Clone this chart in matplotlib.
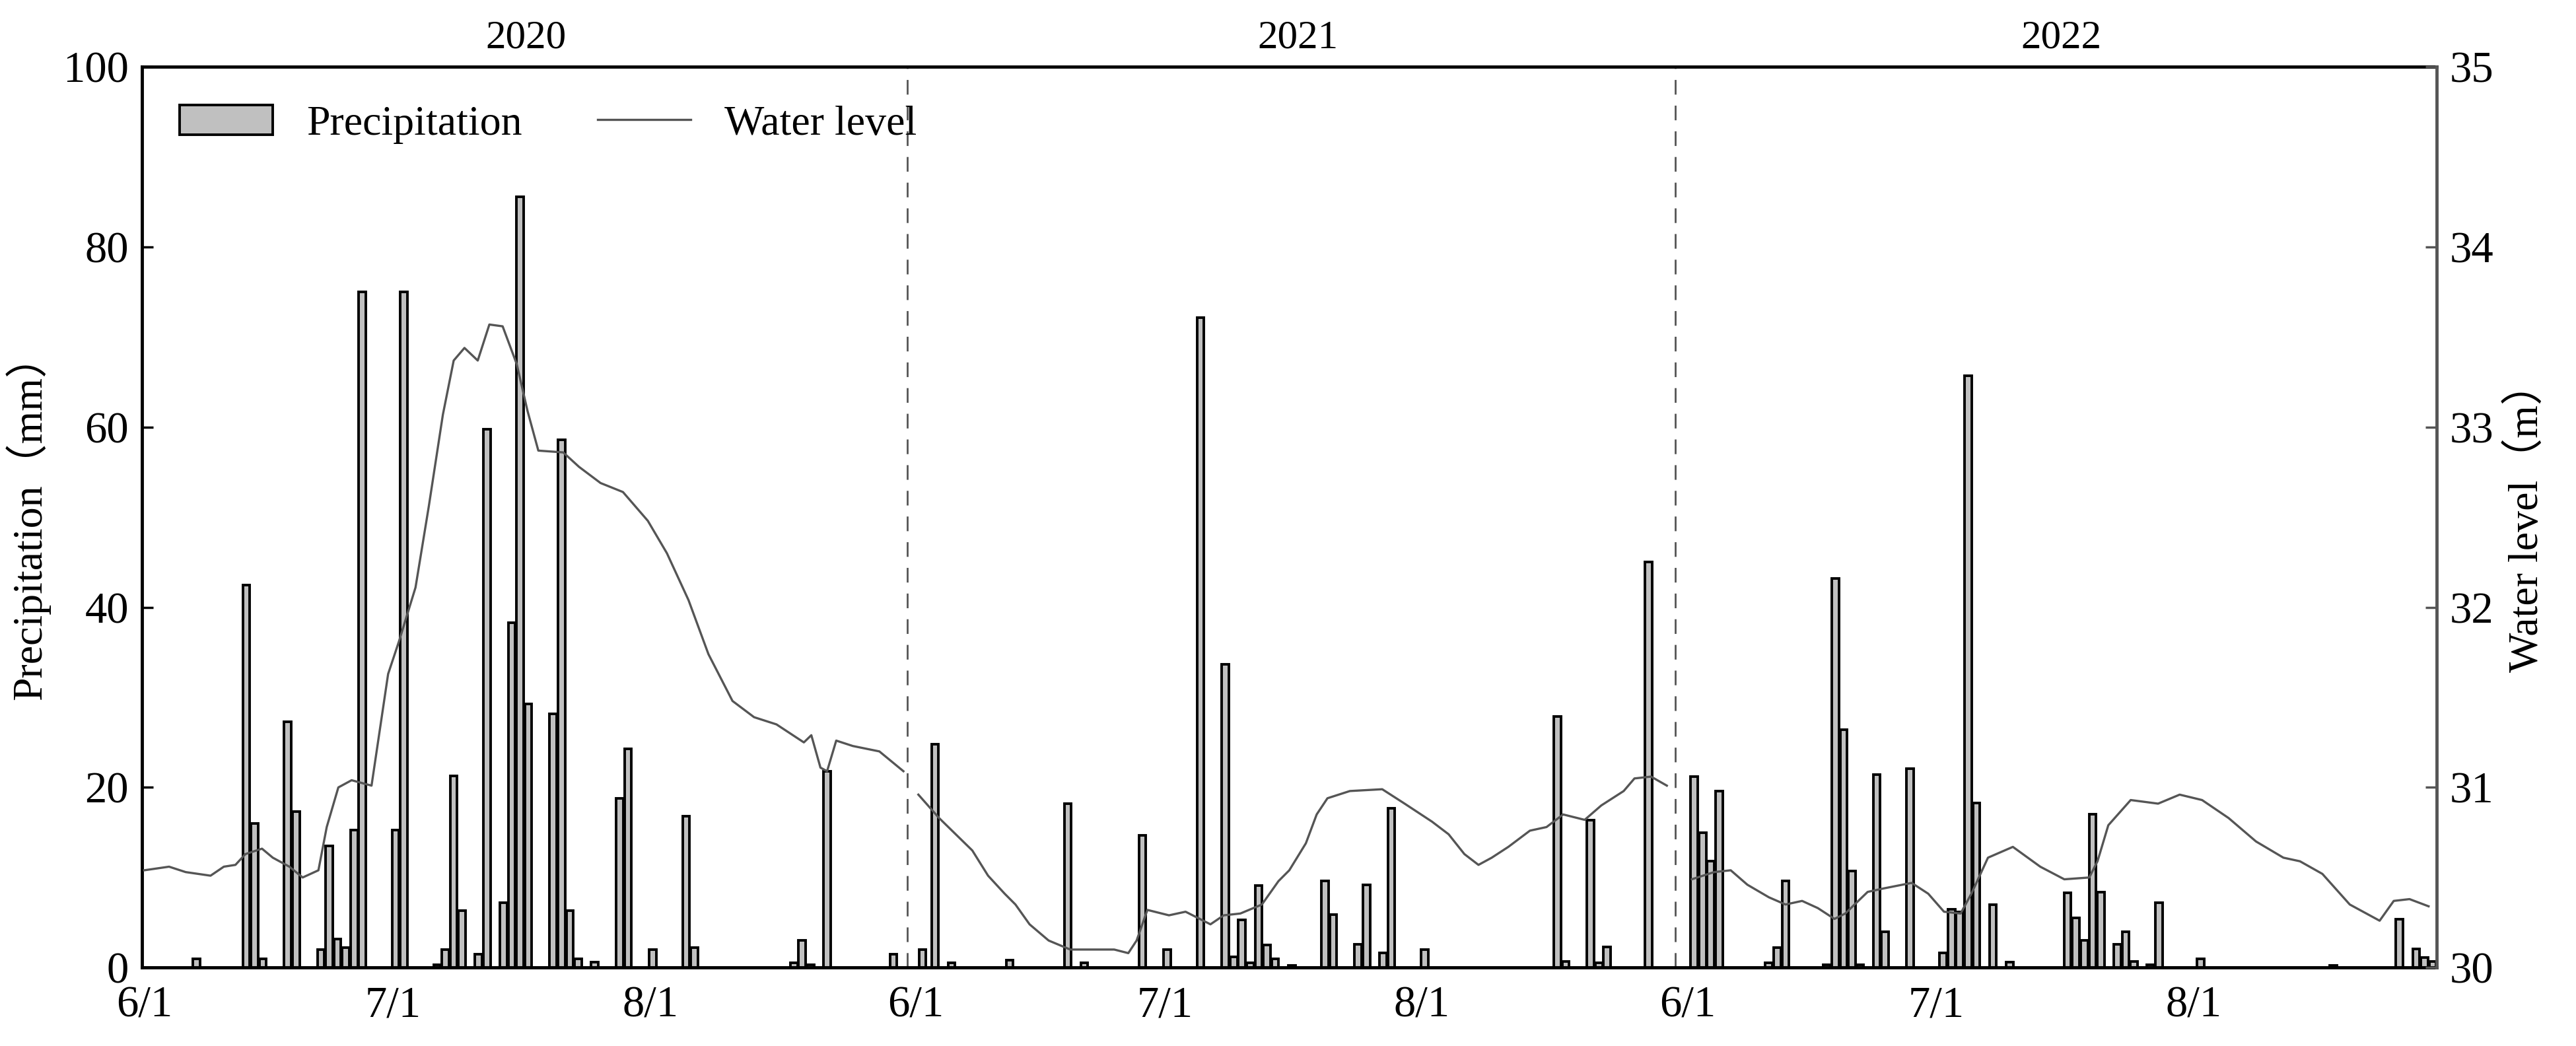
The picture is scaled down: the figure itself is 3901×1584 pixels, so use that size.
import numpy as np
import matplotlib.pyplot as plt
from matplotlib.patches import Patch
from matplotlib.lines import Line2D
from matplotlib.transforms import blended_transform_factory

plt.rcParams['font.family'] = ['Liberation Serif', 'DejaVu Serif']

# season offsets on the continuous day axis
offsets = {'2020': 0, '2021': 93, '2022': 186}

# precipitation: day since 6/1 of each season, mm
p20_day = [6, 12, 13, 14, 17, 18, 21, 22, 23, 24, 25, 26, 30, 31, 35, 36, 37, 38, 40, 41, 43, 44, 45, 46,
           49, 50, 51, 52, 54, 57, 58, 61, 65, 66, 78, 79, 80, 82, 90]
p20_val = [1, 42.5, 16, 1, 27.3, 17.3, 2, 13.5, 3.2, 2.2, 15.3, 75, 15.3, 75, 0.3, 2, 21.3, 6.3, 1.5, 59.8,
           7.2, 38.3, 85.6, 29.3, 28.2, 58.6, 6.3, 1, 0.6, 18.8, 24.3, 2, 16.8, 2.2, 0.5, 3, 0.3, 21.8, 1.5]
p21_day = [0.5, 2, 4, 11, 18, 20, 27, 30, 34, 37, 38, 39, 40, 41, 42, 43, 45, 49, 50, 53, 54, 56, 57, 61,
           77, 78, 81, 82, 83, 88]
p21_val = [2, 24.8, 0.5, 0.8, 18.2, 0.5, 14.7, 2, 72.2, 33.7, 1.2, 5.3, 0.5, 9.1, 2.5, 1, 0.2, 9.6, 5.9,
           2.6, 9.2, 1.6, 17.7, 2, 27.9, 0.7, 16.4, 0.5, 2.3, 45]
p22_day = [0.5, 1.5, 2.5, 3.5, 9.5, 10.5, 11.5, 16.5, 17.5, 18.5, 19.5, 20.5, 22.5, 23.5, 26.5, 30.5, 31.5,
           32.5, 33.5, 34.5, 36.5, 38.5, 45.5, 46.5, 47.5, 48.5, 49.5, 51.5, 52.5, 53.5, 55.5, 56.5, 61.5,
           77.5, 85.5, 87.5, 88.5, 89.5]
p22_val = [21.2, 15, 11.8, 19.6, 0.5, 2.2, 9.6, 0.3, 43.2, 26.4, 10.7, 0.3, 21.4, 4, 22.1, 1.6, 6.5, 6.2,
           65.7, 18.3, 7, 0.6, 8.3, 5.5, 3, 17, 8.4, 2.6, 4, 0.7, 0.3, 7.2, 1, 0.2, 5.4, 2.1, 1.1, 0.7]

# water level (m)
w20_day = [0, 3, 5, 8, 9.6, 11, 12.2, 14.2, 15.5, 17.5, 19.1, 21, 22, 23.4, 25, 27.4, 29.4, 30.7, 32.7,
           34.3, 36, 37.3, 38.6, 40.2, 41.6, 43.2, 44.9, 46.2, 47.5, 50.5, 52.4, 55, 57.7, 60.7, 63, 65.6,
           68, 70.9, 73.5, 76.2, 79.5, 80.4, 81.5, 82.3, 83.4, 85.4, 88.6, 91.5]
w20_val = [30.54, 30.56, 30.53, 30.51, 30.56, 30.57, 30.63, 30.66, 30.61, 30.56, 30.50, 30.54, 30.78,
           31.0, 31.04, 31.01, 31.63, 31.81, 32.11, 32.56, 33.07, 33.37, 33.44, 33.37, 33.57, 33.56, 33.35,
           33.09, 32.87, 32.86, 32.78, 32.69, 32.64, 32.48, 32.30, 32.04, 31.74, 31.48, 31.39, 31.35, 31.25,
           31.29, 31.11, 31.09, 31.26, 31.23, 31.2, 31.09]
w21_day = [0.3, 2.8, 4.8, 6.8, 8.7, 10.7, 12, 13.7, 16, 18.6, 22, 23.9, 25.6, 26.6, 27.9, 30.5, 32.5, 35.5,
           37.1, 39.1, 41.7, 43.7, 45, 47, 48.3, 49.6, 52.3, 56.2, 58.9, 62.2, 64.2, 66.1, 67.8, 69.4, 71.4,
           74, 76, 78, 80.6, 82.6, 85.3, 86.6, 88.6, 90.5]
w21_val = [30.96, 30.83, 30.74, 30.65, 30.51, 30.41, 30.35, 30.24, 30.15, 30.10, 30.10, 30.10, 30.08,
           30.15, 30.32, 30.29, 30.31, 30.24, 30.29, 30.30, 30.35, 30.48, 30.54, 30.69, 30.85, 30.94, 30.98,
           30.99, 30.91, 30.81, 30.74, 30.63, 30.57, 30.61, 30.67, 30.76, 30.78, 30.85, 30.82, 30.90, 30.98,
           31.05, 31.06, 31.01]
w22_day = [0.5, 3.2, 5.2, 7.2, 9.8, 11.8, 13.8, 15.7, 17.7, 19, 21.7, 23.7, 27, 29, 30.9, 32.9, 34.2, 36.2,
           39.2, 42.5, 45.4, 48.4, 49.4, 50.7, 53.4, 56.7, 59.3, 62, 65.2, 68.5, 71.8, 73.8, 76.5, 79.8,
           83.4, 85.1, 87, 89.3]
w22_val = [30.49, 30.53, 30.54, 30.46, 30.39, 30.35, 30.37, 30.33, 30.27, 30.30, 30.42, 30.44, 30.47,
           30.41, 30.31, 30.30, 30.41, 30.61, 30.67, 30.56, 30.49, 30.50, 30.59, 30.79, 30.93, 30.91, 30.96,
           30.93, 30.83, 30.70, 30.61, 30.59, 30.52, 30.35, 30.26, 30.37, 30.38, 30.34]

tick_pos = [0, 30, 61, 93, 123, 154, 186, 216, 247]
tick_lab = ['6/1', '7/1', '8/1'] * 3
sep_lines = [92, 184.5]
year_pos = [46, 139, 231]
years = ['2020', '2021', '2022']

fig = plt.figure(figsize=(39.01, 15.84), dpi=100)
ax = fig.add_axes([0.055, 0.075, 0.891, 0.861])
ax2 = ax.twinx()

prec = [(p20_day, p20_val, '2020'), (p21_day, p21_val, '2021'), (p22_day, p22_val, '2022')]
for d, v, y in prec:
    x = np.array(d) + offsets[y] + 0.3
    ax.bar(x, v, width=0.85, color='#c0c0c0', edgecolor='black', linewidth=2.8, zorder=3)

lev = [(w20_day, w20_val, '2020'), (w21_day, w21_val, '2021'), (w22_day, w22_val, '2022')]
for d, v, y in lev:
    ax2.plot(np.array(d) + offsets[y], v, color='#555555', lw=2.4)

for s in sep_lines:
    ax.axvline(s, color='#555555', ls=(0, (8, 6)), lw=2)

ax.set_xlim(-0.3, 276.3)
ax.set_ylim(0, 100)
ax2.set_ylim(30, 35)
ax.set_xticks(tick_pos)
ax.set_xticklabels(tick_lab)
ax.set_yticks([0, 20, 40, 60, 80, 100])
ax2.set_yticks([30, 31, 32, 33, 34, 35])

ax.tick_params(axis='both', direction='in', labelsize=48, width=2.5, length=12, pad=14)
ax.tick_params(axis='x', length=0, pad=20)
ax2.tick_params(axis='y', direction='in', labelsize=48, width=2.5, length=12, colors='#555555',
                labelcolor='black', pad=14)
for sp in ['top', 'left', 'bottom']:
    ax.spines[sp].set_linewidth(3.5)
ax.spines['right'].set_visible(False)
ax2.spines['right'].set_linewidth(3.5)
ax2.spines['right'].set_color('#555555')
for sp in ['top', 'left', 'bottom']:
    ax2.spines[sp].set_visible(False)

ax.set_ylabel('Precipitation（mm）', fontsize=46, family=['Liberation Serif', 'Noto Sans CJK SC'], labelpad=14)
ax2.set_ylabel('Water level（m）', fontsize=46, family=['Liberation Serif', 'Noto Sans CJK SC'], labelpad=14)

tr = blended_transform_factory(ax.transData, ax.transAxes)
for xp, yl in zip(year_pos, years):
    ax.text(xp, 1.012, yl, transform=tr, ha='center', va='bottom', fontsize=44)

handles = [Patch(facecolor='#c0c0c0', edgecolor='black', linewidth=2.8),
           Line2D([], [], color='#555555', lw=2.4)]
ax.legend(handles, ['Precipitation', 'Water level'], loc='upper left', ncol=2, frameon=False,
          fontsize=46, handlelength=2.2, columnspacing=1.8, borderaxespad=0.5)

fig.savefig('out.png', dpi=100)
